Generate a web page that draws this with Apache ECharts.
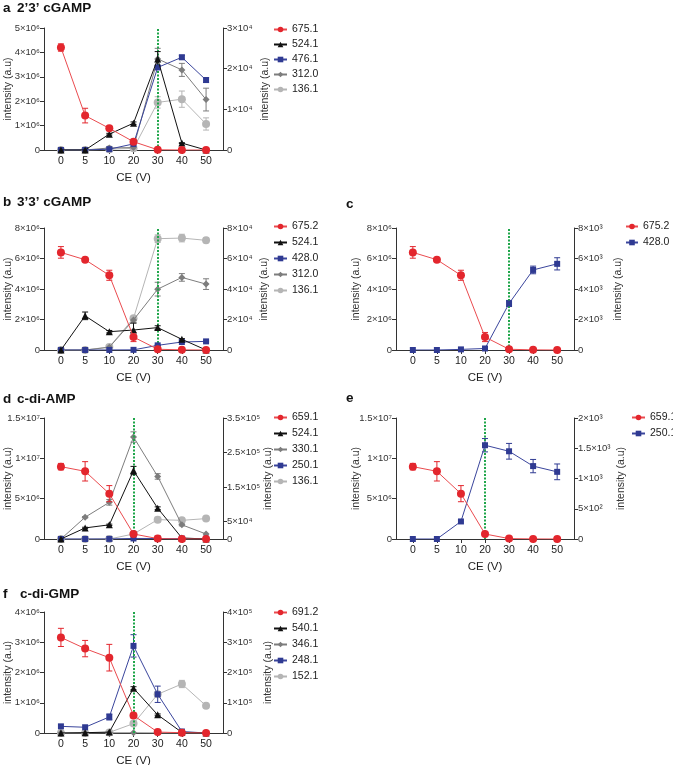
<!DOCTYPE html>
<html>
<head>
<meta charset="utf-8">
<script src="https://cdn.jsdelivr.net/npm/echarts@6/dist/echarts.min.js"></script>
<style>
html,body{margin:0;padding:0;background:#fff;}
#chart{width:673px;height:765px;}
</style>
</head>
<body>
<div id="chart"></div>
<script>
// ---------- data ----------
const CE = ['0', '5', '10', '20', '30', '40', '50'];

// a: 2'3' cGAMP
const a_675_1 = [4.2e6, 1.41e6, 0.89e6, 0.34e6, 0.01e6, 0, 0];
const a_675_1_err = [0.15e6, 0.3e6, 0.08e6, 0.03e6, 0, 0, 0];
const a_524_1 = [0, 0, 3900, 6600, 22400, 1700, 0];
const a_524_1_err = [0, 0, 200, 300, 1800, 100, 0];
const a_476_1 = [0, 0, 200, 1500, 20300, 22800, 17200];
const a_476_1_err = [0, 0, 0, 0, 500, 500, 600];
const a_312_0 = [0, 0, 500, 600, 22400, 19700, 12400];
const a_312_0_err = [0, 0, 0, 0, 2600, 1600, 2800];
const a_136_1 = [0, 0, 200, 400, 11700, 12500, 6400];
const a_136_1_err = [0, 0, 0, 0, 1400, 2000, 1500];

// b: 3'3' cGAMP (and c)
const b_675_2 = [6.4e6, 5.92e6, 4.9e6, 0.85e6, 0.05e6, 0.01e6, 0];
const b_675_2_err = [0.38e6, 0.12e6, 0.33e6, 0.3e6, 0, 0, 0];
const b_524_1 = [0, 22400, 12000, 13100, 14700, 7000, 0];
const b_524_1_err = [0, 2500, 800, 4500, 1200, 500, 0];
const b_428_0 = [0, 0, 40, 100, 3050, 5250, 5650];
const b_428_0_err = [0, 0, 0, 0, 200, 250, 400];
const b_312_0 = [0, 0, 1800, 19700, 39900, 47600, 43200];
const b_312_0_err = [0, 0, 0, 1500, 4500, 2500, 3500];
const b_136_1 = [0, 0, 2000, 20800, 73000, 73400, 71900];
const b_136_1_err = [0, 0, 0, 1000, 2500, 2500, 1500];

// d: c-di-AMP (and e)
const d_659_1 = [8.97e6, 8.39e6, 5.62e6, 0.62e6, 0.05e6, 0.01e6, 0];
const d_659_1_err = [0.4e6, 1.2e6, 1.0e6, 0.15e6, 0, 0, 0];
const d_524_1 = [0, 32000, 41000, 198000, 89000, 3000, 0];
const d_524_1_err = [0, 2000, 2000, 12000, 4000, 0, 0];
const d_330_1 = [0, 63000, 106000, 295000, 181000, 41000, 14500];
const d_330_1_err = [0, 2000, 8000, 15000, 8000, 3000, 0];
const d_250_1 = [0, 0, 290, 1550, 1450, 1205, 1110];
const d_250_1_err = [0, 0, 0, 110, 130, 110, 130];
const d_136_1 = [0, 0, 0, 14500, 56000, 54000, 59000];
const d_136_1_err = [0, 0, 0, 0, 7000, 3000, 4000];

// f: c-di-GMP
const f_691_2 = [3.16e6, 2.79e6, 2.49e6, 0.58e6, 0.03e6, 0.01e6, 0];
const f_691_2_err = [0.3e6, 0.27e6, 0.44e6, 0.08e6, 0, 0, 0];
const f_540_1 = [0, 1000, 3000, 148000, 60000, 2000, 0];
const f_540_1_err = [0, 0, 0, 5000, 3000, 0, 0];
const f_346_1 = [0, 0, 500, 500, 0, 0, 0];
const f_346_1_err = [0, 0, 0, 0, 0, 0, 0];
const f_248_1 = [22000, 19000, 53000, 288000, 128000, 5000, 0];
const f_248_1_err = [0, 0, 10000, 37000, 27000, 0, 0];
const f_152_1 = [0, 0, 2000, 31000, 128000, 162000, 90000];
const f_152_1_err = [0, 0, 0, 0, 0, 12000, 0];

// ---------- styles ----------
const STY = {
  red:   {color: '#e3262d', line: '#ea4b4f', symbol: 'circle', size: 8, z: 5},
  black: {color: '#111111', line: '#111111', symbol: 'triangle', size: 7, z: 4},
  blue:  {color: '#2f3a92', line: '#3a459c', symbol: 'rect', size: 6, z: 3},
  dgray: {color: '#7d7d7d', line: '#7d7d7d', symbol: 'diamond', size: 7, z: 2},
  lgray: {color: '#b5b5b5', line: '#b5b5b5', symbol: 'circle', size: 8, z: 1}
};

const FONT = "'Liberation Sans', Arial, Helvetica, 'DejaVu Sans', sans-serif";
const SUP = '⁰¹²³⁴⁵⁶⁷⁸⁹';
function sci(v) {
  if (v === 0) return '0';
  const e = Math.floor(Math.log10(v) + 1e-9);
  let m = Math.round(v / Math.pow(10, e) * 10) / 10;
  return m + '×10' + String(e).split('').map(d => SUP[+d]).join('');
}

const panels = [
  {title: ['a', '2’3’ cGAMP'], tl: [3, 17], tt: 1, lgap: 30, rgap: 37,
   grid: {left: 44, top: 28, width: 179, height: 122}, lmax: 5e6, lint: 1e6, rmax: 3e4, rint: 1e4,
   legend: {left: 273, top: 24, gap: 4, w: 13}, mark: 4,
   series: [['675.1', a_675_1, a_675_1_err, 'red', 0], ['524.1', a_524_1, a_524_1_err, 'black', 1],
            ['476.1', a_476_1, a_476_1_err, 'blue', 1], ['312.0', a_312_0, a_312_0_err, 'dgray', 1],
            ['136.1', a_136_1, a_136_1_err, 'lgray', 1]]},
  {title: ['b', '3’3’ cGAMP'], tl: [3, 17], tt: 195, lgap: 30, rgap: 36,
   grid: {left: 44, top: 228, width: 179, height: 122}, lmax: 8e6, lint: 2e6, rmax: 8e4, rint: 2e4,
   legend: {left: 273, top: 221, gap: 5, w: 13}, mark: 4,
   series: [['675.2', b_675_2, b_675_2_err, 'red', 0], ['524.1', b_524_1, b_524_1_err, 'black', 1],
            ['428.0', b_428_0, b_428_0_err, 'blue', 1], ['312.0', b_312_0, b_312_0_err, 'dgray', 1],
            ['136.1', b_136_1, b_136_1_err, 'lgray', 1]]},
  {title: ['c', ''], tl: [346, 362], tt: 197, lgap: 34, rgap: 39,
   grid: {left: 396, top: 228, width: 178, height: 122}, lmax: 8e6, lint: 2e6, rmax: 8e3, rint: 2e3,
   legend: {left: 625, top: 221, gap: 5, w: 12}, mark: 4,
   series: [['675.2', b_675_2, b_675_2_err, 'red', 0], ['428.0', b_428_0, b_428_0_err, 'blue', 1]]},
  {title: ['d', 'c-di-AMP'], tl: [3, 17], tt: 392, lgap: 30, rgap: 40,
   grid: {left: 44, top: 418, width: 179, height: 121}, lmax: 1.5e7, lint: 5e6, rmax: 3.5e5, rcustom: [0, 5e4, 1.5e5, 2.5e5, 3.5e5],
   legend: {left: 273, top: 412, gap: 5, w: 13}, mark: 3,
   series: [['659.1', d_659_1, d_659_1_err, 'red', 0], ['524.1', d_524_1, d_524_1_err, 'black', 1],
            ['330.1', d_330_1, d_330_1_err, 'dgray', 1], ['250.1', d_250_1, d_250_1_err, 'blue', 1],
            ['136.1', d_136_1, d_136_1_err, 'lgray', 1]]},
  {title: ['e', ''], tl: [346, 362], tt: 391, lgap: 34, rgap: 42,
   grid: {left: 396, top: 418, width: 178, height: 121}, lmax: 1.5e7, lint: 5e6, rmax: 2e3, rint: 5e2,
   legend: {left: 631, top: 412, gap: 5, w: 13}, mark: 3,
   series: [['659.1', d_659_1, d_659_1_err, 'red', 0], ['250.1', d_250_1, d_250_1_err, 'blue', 1]]},
  {title: ['f', 'c-di-GMP'], tl: [3, 20], tt: 587, lgap: 30, rgap: 40,
   grid: {left: 44, top: 612, width: 179, height: 121}, lmax: 4e6, lint: 1e6, rmax: 4e5, rint: 1e5,
   legend: {left: 273, top: 607, gap: 5, w: 13}, mark: 3,
   series: [['691.2', f_691_2, f_691_2_err, 'red', 0], ['540.1', f_540_1, f_540_1_err, 'black', 1],
            ['346.1', f_346_1, f_346_1_err, 'dgray', 1], ['248.1', f_248_1, f_248_1_err, 'blue', 1],
            ['152.1', f_152_1, f_152_1_err, 'lgray', 1]]}
];

const option = {
  animation: false,
  backgroundColor: '#fff',
  textStyle: {fontFamily: FONT},
  title: [], grid: [], xAxis: [], yAxis: [], legend: [], series: []
};

const IDX = [0, 1, 2, 3, 4, 5, 6];

panels.forEach((p, g) => {
  option.title.push({text: p.title[0], left: p.tl[0], top: p.tt, padding: 0,
    textStyle: {fontSize: 13.5, fontWeight: 'bold', color: '#111', fontFamily: FONT}});
  if (p.title[1]) option.title.push({text: p.title[1], left: p.tl[1], top: p.tt, padding: 0,
    textStyle: {fontSize: 13.5, fontWeight: 'bold', color: '#111', fontFamily: FONT}});
  option.grid.push(Object.assign({containLabel: false, outerBoundsMode: 'none'}, p.grid));
  option.xAxis.push({
    type: 'value', gridIndex: g, min: -0.7, max: 6.7,
    axisLine: {show: true, onZero: false, lineStyle: {color: '#333', width: 1}},
    axisTick: {show: true, length: 4, customValues: IDX, lineStyle: {color: '#333'}},
    axisLabel: {customValues: IDX, formatter: v => CE[Math.round(v)], fontSize: 10.5, color: '#222', margin: 6},
    splitLine: {show: false},
    name: 'CE (V)', nameLocation: 'middle', nameGap: 22, nameMoveOverlap: false,
    nameTextStyle: {fontSize: 11.5, color: '#222'}
  });
  const yBase = {
    type: 'value', gridIndex: g, min: 0,
    axisLine: {show: true, onZero: false, lineStyle: {color: '#333', width: 1}},
    axisTick: {show: true, length: 4, lineStyle: {color: '#333'}},
    axisLabel: {formatter: sci, fontSize: 9.5, color: '#333', margin: 4},
    splitLine: {show: false},
    name: 'intensity (a.u)', nameLocation: 'middle', nameRotate: 90, nameMoveOverlap: false,
    nameTextStyle: {fontSize: 10.5, color: '#333'}
  };
  option.yAxis.push(Object.assign({}, yBase, {position: 'left', max: p.lmax, interval: p.lint, nameGap: p.lgap}));
  const r = Object.assign({}, yBase, {position: 'right', max: p.rmax, nameGap: p.rgap});
  if (p.rcustom) {
    r.axisTick = Object.assign({}, yBase.axisTick, {customValues: p.rcustom});
    r.axisLabel = Object.assign({}, yBase.axisLabel, {customValues: p.rcustom});
  } else {
    r.interval = p.rint;
  }
  option.yAxis.push(r);

  option.legend.push({
    left: p.legend.left, top: p.legend.top, orient: 'vertical', padding: 0,
    itemWidth: p.legend.w, itemHeight: 7, itemGap: p.legend.gap, selectedMode: false,
    data: p.series.map(s => s[0]),
    textStyle: {fontSize: 10.5, color: '#222', fontFamily: FONT}
  });

  p.series.forEach((s, k) => {
    const st = STY[s[3]];
    const yi = 2 * g + s[4];
    const ser = {
      type: 'line', name: s[0], xAxisIndex: g, yAxisIndex: yi,
      data: s[1].map((v, i) => [i, v]),
      symbol: st.symbol, symbolSize: st.size, z: st.z + 2,
      itemStyle: {color: st.color},
      lineStyle: {color: st.line, width: 1},
      emphasis: {disabled: true}
    };
    if (k === 0) {
      ser.markLine = {silent: true, symbol: 'none', label: {show: false},
        lineStyle: {color: '#1fa64a', type: [2, 1.5], width: 2},
        data: [{xAxis: p.mark}]};
    }
    option.series.push(ser);
    const errs = [];
    s[2].forEach((e, i) => { if (e > 0) errs.push([i, s[1][i], e]); });
    if (errs.length) {
      option.series.push({
        type: 'custom', name: 'err_' + g + '_' + k, xAxisIndex: g, yAxisIndex: yi,
        silent: true, z: st.z + 1, data: errs,
        renderItem: (params, api) => {
          const x = api.value(0), y = api.value(1), e = api.value(2);
          const t = api.coord([x, y + e]), b = api.coord([x, y - e]);
          const w = 3;
          const sty = {stroke: st.color, lineWidth: 1};
          return {type: 'group', children: [
            {type: 'line', shape: {x1: t[0], y1: t[1], x2: b[0], y2: b[1]}, style: sty},
            {type: 'line', shape: {x1: t[0] - w, y1: t[1], x2: t[0] + w, y2: t[1]}, style: sty},
            {type: 'line', shape: {x1: b[0] - w, y1: b[1], x2: b[0] + w, y2: b[1]}, style: sty}
          ]};
        }
      });
    }
  });
});

const chart = echarts.init(document.getElementById('chart'), null, {renderer: 'canvas'});
chart.setOption(option);
</script>
</body>
</html>
